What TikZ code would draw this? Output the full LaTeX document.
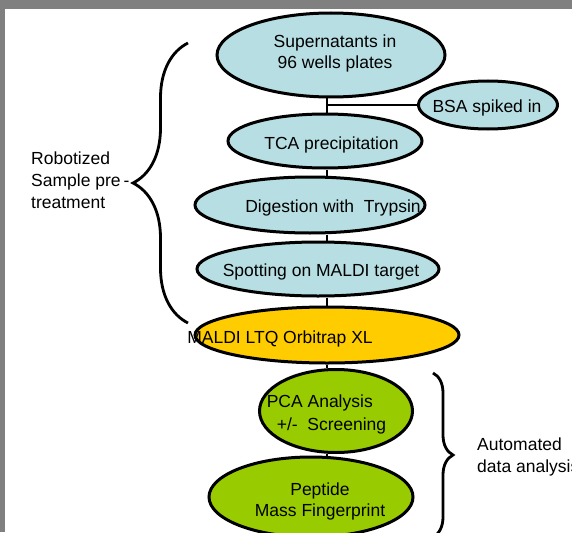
\documentclass[tikz,border=0pt]{standalone}
\usepackage{fontspec}
\setmainfont{Liberation Sans}
\usetikzlibrary{shapes.geometric, decorations.pathreplacing, calc, positioning}
\definecolor{stepBlue}{RGB}{183,223,227}
\definecolor{msYellow}{RGB}{255,204,0}
\definecolor{dataGreen}{RGB}{153,204,0}
\definecolor{frameGray}{RGB}{128,128,128}
\tikzset{
    stepNode/.style={ellipse, draw, line width=3pt, fill=stepBlue, inner sep=0pt},
    msNode/.style={stepNode, fill=msYellow},
    dataNode/.style={stepNode, fill=dataGreen},
    stepText/.style={font=\fontsize{17.5}{21}\selectfont, align=center, inner sep=0pt},
    sideText/.style={font=\fontsize{17.5}{22}\selectfont, align=left, inner sep=0pt, anchor=west},
    link/.style={line width=2.8pt},
    braceLine/.style={line width=2.8pt, decorate, decoration={brace, amplitude=#1}},
}
\newcommand{\drawLink}[3][link]{
    \draw[#1] (spine |- #2.south) -- (spine |- #3.north);
}

\begin{document}
\begin{tikzpicture}[x=1pt, y=-1pt]
    \useasboundingbox (0,0) rectangle (572,532);
    \clip (0,0) rectangle (572,532);
    \fill[frameGray] (0,0) rectangle (572,9);
    \fill[frameGray] (0,0) rectangle (5,532);

    \coordinate (spine) at (327,0);

    \node[stepNode, minimum width=228pt, minimum height=84pt] (sup) at (331,55) {};
    \node[stepNode, minimum width=139pt, minimum height=48pt] (bsa) at (488,105) {};
    \node[stepNode, minimum width=194pt, minimum height=54pt] (tca) at (325,141) {};
    \node[stepNode, minimum width=230pt, minimum height=56pt] (dig) at (310,205) {};
    \node[stepNode, minimum width=242pt, minimum height=54pt] (spot) at (318,269) {};
    \node[msNode, minimum width=264pt, minimum height=56pt] (maldi) at (327,335) {};
    \node[dataNode, minimum width=153pt, minimum height=83pt] (pca) at (336,411) {};
    \node[dataNode, minimum width=204pt, minimum height=80pt] (pep) at (311,497) {};

    \drawLink{sup}{tca}
    \drawLink{tca}{dig}
    \drawLink{dig}{spot}
    \drawLink{spot}{maldi}
    \drawLink{maldi}{pca}
    \drawLink{pca}{pep}
    \draw[link] (spine |- bsa.west) -- (bsa.west);

    \node[stepText] (supText) at (335,53) {Supernatants in\\96 wells plates};
    \node[stepText] (bsaText) at (487,107.5) {BSA spiked in};
    \node[stepText] (tcaText) at (331.5,144.5) {TCA precipitation};
    \node[stepText] (digText) at (333,208) {Digestion with~~Trypsin};
    \node[stepText] (spotText) at (321,271.5) {Spotting on MALDI target};
    \node[stepText] (maldiText) at (280,338.5) {MALDI LTQ Orbitrap XL};
    \node[stepText, align=left, font=\fontsize{17.5}{23}\selectfont] (pcaText) at (326.5,414.5) {PCA Analysis\\\hspace{10pt}+/-~~Screening};
    \node[stepText] (pepText) at (320,501) {Peptide\\Mass Fingerprint};

    \node[sideText] (robot) at (31,180.7) {Robotized\\Sample pre\,-\\treatment};
    \node[sideText] (auto) at (477,456.5) {Automated\\data analysis};

    \draw[braceLine=55pt] (188,323) -- (188,43);
    \draw[braceLine=20pt] (433,373) -- (433,537);
\end{tikzpicture}
\end{document}
